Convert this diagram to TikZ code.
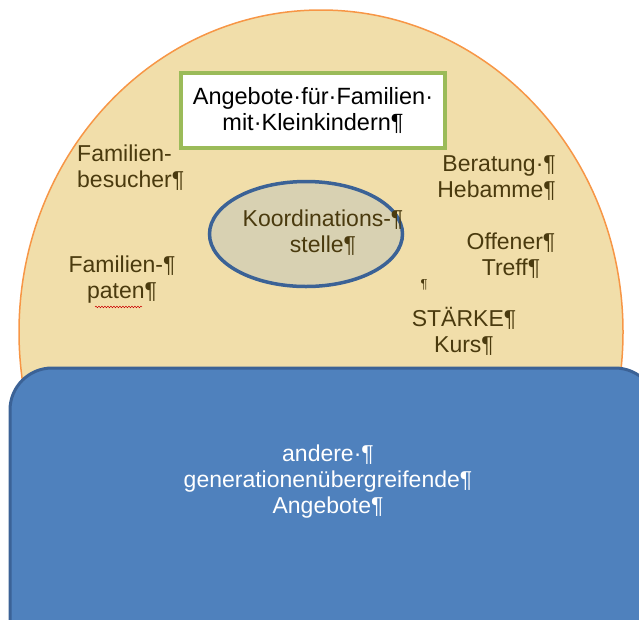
\documentclass[tikz,border=0pt]{standalone}
\usepackage{fontspec}
\setmainfont{Liberation Sans}
\usetikzlibrary{shapes.geometric,decorations.pathmorphing}

\definecolor{sand}{HTML}{F1DEAA}
\definecolor{rim}{HTML}{F79646}
\definecolor{leaf}{HTML}{9BBB59}
\definecolor{steel}{HTML}{4F81BD}
\definecolor{steeldark}{HTML}{3B6296}
\definecolor{greige}{HTML}{D8D1B2}
\definecolor{umber}{HTML}{4A3A0E}

\tikzset{
  offer/.style={text=umber, font=\fontsize{23}{26}\selectfont, inner sep=0pt},
}

\begin{document}
\begin{tikzpicture}[x=1pt, y=-1pt]
  \useasboundingbox (0,0) rectangle (639,619);
  \clip (0,0) rectangle (639,619);

  % outer disc
  \draw[rim, line width=1.5pt, fill=sand] (321,332) ellipse [x radius=302pt, y radius=322pt];

  % title box
  \node (titel) at (313,110.5) [draw=leaf, line width=4pt, fill=white,
    minimum width=264pt, minimum height=75pt, align=center, inner sep=0pt,
    font=\fontsize{23.5}{26}\selectfont]
    {Angebote·für·Familien·\\mit·Kleinkindern¶};

  % centre
  \node (koord) at (306,234) [ellipse, draw=steeldark, line width=3.5pt, fill=greige,
    minimum width=193pt, minimum height=105pt] {};
  \node (koordtext) at (323,233) [offer, align=center] {Koordinations-¶\\stelle¶};

  % offers round the centre
  \node (besucher) at (77,168) [offer, anchor=west, align=left] {Familien-\\besucher¶};
  \node (paten) at (122,280) [offer, align=center] {Familien-¶\\paten¶};
  \node (hebamme) at (556,178) [offer, anchor=east, align=right] {Beratung·¶\\Hebamme¶};
  \node (treff) at (511,256) [offer, align=center] {Offener¶\\Treff¶};
  \node (staerke) at (464,331) [offer, align=center] {STÄRKE¶\\Kurs¶};
  \node (mark) at (424,285) [text=umber, font=\fontsize{13}{13}\selectfont, inner sep=0pt] {¶};
  \draw[red!80!black, line width=0.5pt, decorate,
    decoration={snake, amplitude=0.8pt, segment length=3pt}]
    (paten.south) ++(-27,3) -- ++(47,0);

  % lower block
  \draw[steeldark, line width=3pt, fill=steel, rounded corners=42pt]
    (10,368) rectangle (657,700);
  \node (andere) at (328,482) [text=white, align=center,
    font=\fontsize{23}{26}\selectfont]
    {andere·¶\\generationenübergreifende¶\\Angebote¶};
\end{tikzpicture}
\end{document}
